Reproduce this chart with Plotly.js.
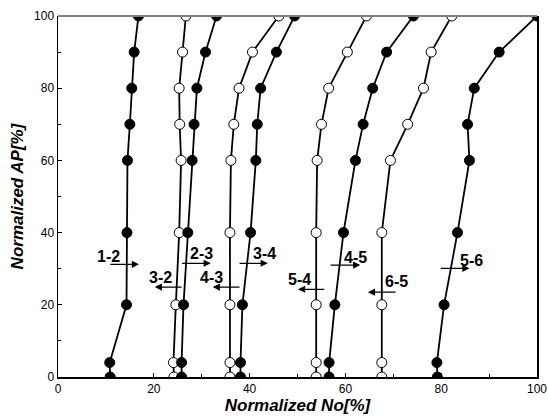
<!DOCTYPE html>
<html>
<head>
<meta charset="utf-8">
<script src="https://cdn.plot.ly/plotly-3.0.1.min.js"></script>
<style>html,body{margin:0;padding:0;background:#fff;}#chart{width:548px;height:416px;}</style>
</head>
<body>
<div id="chart"></div>
<script>
// Normalized AP levels (y) shared by all curves
const apLevels = [0, 4, 20, 40, 60, 70, 80, 90, 100];

// Normalized No values for each transition curve
const no_1_2 = [10.9, 10.8, 14.3, 14.4, 14.5, 15.0, 15.4, 15.9, 16.8];
const no_3_2 = [24.2, 24.1, 24.6, 25.3, 25.7, 25.4, 25.3, 26.0, 26.7];
const no_2_3 = [25.8, 25.8, 26.2, 27.1, 28.0, 28.4, 29.0, 30.8, 33.1];
const no_4_3 = [35.9, 35.9, 35.9, 35.9, 36.1, 36.7, 37.8, 40.6, 46.1];
const no_3_4 = [38.1, 38.1, 38.5, 40.2, 41.3, 41.6, 42.3, 45.6, 49.4];
const no_5_4 = [53.9, 53.9, 53.9, 53.9, 54.1, 55.0, 56.5, 60.4, 64.4];
const no_4_5 = [56.6, 56.6, 57.8, 59.6, 62.1, 63.7, 65.7, 68.6, 74.2];
const no_6_5 = [67.6, 67.6, 67.6, 67.6, 69.4, 73.0, 76.3, 77.9, 82.2];
const no_5_6 = [79.2, 79.1, 80.6, 83.4, 85.9, 85.5, 86.9, 92.1, 100];

const curveNames = ['1-2', '3-2', '2-3', '4-3', '3-4', '5-4', '4-5', '6-5', '5-6'];
const curveValues = [no_1_2, no_3_2, no_2_3, no_4_3, no_3_4, no_5_4, no_4_5, no_6_5, no_5_6];
// upshift curves filled, downshift curves open
const curveFilled = [true, false, true, false, true, false, true, false, true];

const traces = curveValues.map((xs, i) => ({
  type: 'scatter',
  mode: 'lines+markers',
  name: curveNames[i],
  x: xs,
  y: apLevels,
  line: {color: '#000', width: 1.8},
  marker: {
    size: 10,
    color: curveFilled[i] ? '#000' : '#fff',
    line: {color: '#000', width: 1}
  },
  showlegend: false
}));

// Label placement (text position, arrow tail -> head) in data units
const labelCfg = [
  {t: '1-2', tx: 10.6, ty: 33.5, x0: 10.6, x1: 16.9, y: 31.2},
  {t: '2-3', tx: 29.9, ty: 34.3, x0: 25.6, x1: 31.9, y: 31.5},
  {t: '3-2', tx: 21.5, ty: 27.6, x0: 26.1, x1: 20.2, y: 24.9},
  {t: '4-3', tx: 32.1, ty: 27.6, x0: 38.2, x1: 32.3, y: 24.9},
  {t: '3-4', tx: 43.2, ty: 34.3, x0: 37.6, x1: 43.8, y: 31.5},
  {t: '4-5', tx: 62.2, ty: 33.2, x0: 56.6, x1: 63.1, y: 31.0},
  {t: '5-4', tx: 50.5, ty: 27.1, x0: 55.9, x1: 50.1, y: 24.3},
  {t: '6-5', tx: 70.6, ty: 26.5, x0: 70.8, x1: 64.7, y: 23.5},
  {t: '5-6', tx: 86.3, ty: 32.4, x0: 79.6, x1: 85.9, y: 30.1}
];

const annotations = [];
labelCfg.forEach(c => {
  annotations.push({
    x: c.tx, y: c.ty, xref: 'x', yref: 'y', text: c.t, showarrow: false,
    font: {family: 'Liberation Sans, Arial, sans-serif', size: 16, color: '#000', weight: 'bold'}
  });
  annotations.push({
    x: c.x1, y: c.y, ax: c.x0, ay: c.y, xref: 'x', yref: 'y', axref: 'x', ayref: 'y',
    text: '', showarrow: true, arrowhead: 2, arrowsize: 1.1, arrowwidth: 1.3, arrowcolor: '#000'
  });
});

const tickFont = {family: 'Liberation Sans, Arial, sans-serif', size: 12, color: '#000'};
const titleFont = {family: 'Liberation Sans, Arial, sans-serif', size: 17, color: '#000', weight: 'bold', style: 'italic'};

const layout = {
  width: 548, height: 416,
  margin: {l: 58, r: 11, t: 16, b: 39},
  paper_bgcolor: '#fff', plot_bgcolor: '#fff',
  xaxis: {
    range: [0, 100], dtick: 20, tick0: 0,
    showgrid: false, zeroline: false,
    showline: true, linecolor: '#000', linewidth: 1.5, mirror: false,
    ticks: 'inside', ticklen: 4, tickcolor: '#000',
    minor: {dtick: 10, ticks: 'inside', ticklen: 3, tickcolor: '#000'},
    tickfont: tickFont,
    title: {text: 'Normalized No[%]', font: titleFont, standoff: 2}
  },
  yaxis: {
    range: [0, 100], dtick: 20, tick0: 0,
    showgrid: false, zeroline: false,
    showline: true, linecolor: '#000', linewidth: 1.5, mirror: true,
    ticks: 'inside', ticklen: 4, tickcolor: '#000',
    minor: {dtick: 10, ticks: 'inside', ticklen: 3, tickcolor: '#000'},
    tickfont: tickFont,
    title: {text: 'Normalized AP[%]', font: titleFont, standoff: 6}
  },
  shapes: [{
    type: 'line', xref: 'paper', yref: 'paper', x0: 0, x1: 1, y0: 1, y1: 1,
    line: {color: '#808080', width: 2}
  }],
  annotations: annotations
};

Plotly.newPlot('chart', traces, layout, {displayModeBar: false, staticPlot: true});
</script>
</body>
</html>
